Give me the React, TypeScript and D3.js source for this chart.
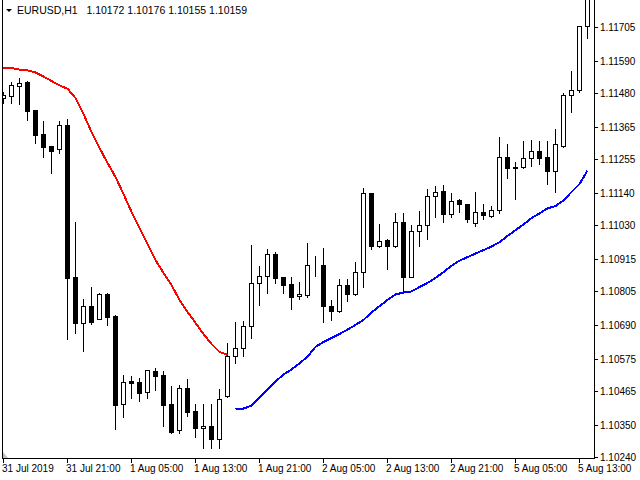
import * as d3 from "d3";
import { useEffect, useRef } from "react";

// EURUSD H1 candles, 31 Jul 13:00 .. 5 Aug 14:00
const opens = [
  1.11463, 1.1147, 1.11504, 1.11518, 1.11422, 1.1134, 1.113, 1.11289, 1.11371, 1.10853,
  1.10697, 1.10754, 1.1071, 1.10795, 1.1072, 1.10421, 1.10499, 1.10496, 1.10461, 1.10533,
  1.10519, 1.10421, 1.10332, 1.10475, 1.10397, 1.10339, 1.10346, 1.10301, 1.10448, 1.10584,
  1.10611, 1.10686, 1.10833, 1.10857, 1.10932, 1.10853, 1.10829, 1.10787, 1.10792, 1.10893,
  1.10894, 1.10754, 1.10737, 1.10826, 1.10795, 1.1087, 1.11139, 1.1096, 1.10979, 1.10959,
  1.11041, 1.10853, 1.1101, 1.1103, 1.11129, 1.11146, 1.11068, 1.11116, 1.11102, 1.11037,
  1.11075, 1.11061, 1.1108, 1.11262, 1.11228, 1.11228, 1.11257, 1.11283, 1.11262, 1.11216,
  1.11301, 1.11472, 1.11489, 1.11707,
];
const highs = [
  1.11484, 1.11518, 1.11531, 1.11521, 1.11422, 1.11385, 1.113, 1.11385, 1.11392, 1.11041,
  1.10778, 1.10819, 1.10799, 1.10799, 1.10724, 1.10519, 1.10516, 1.10509, 1.10537, 1.10543,
  1.10533, 1.10482, 1.10485, 1.10506, 1.10421, 1.10421, 1.10421, 1.10472, 1.10628, 1.107,
  1.10703, 1.10962, 1.10891, 1.10949, 1.10938, 1.10853, 1.10853, 1.10836, 1.10969, 1.10925,
  1.10952, 1.10775, 1.10846, 1.10846, 1.10904, 1.11156, 1.1114, 1.11034, 1.10983, 1.11071,
  1.11071, 1.1103, 1.11078, 1.11153, 1.11163, 1.11167, 1.11139, 1.11119, 1.11103, 1.11143,
  1.11102, 1.11095, 1.1133, 1.11306, 1.11245, 1.11317, 1.1132, 1.11317, 1.11317, 1.11357,
  1.1148, 1.11555, 1.11708, 1.11814,
];
const lows = [
  1.11446, 1.11446, 1.11443, 1.11388, 1.1131, 1.11262, 1.11208, 1.11276, 1.10642, 1.10662,
  1.10601, 1.10693, 1.10709, 1.1069, 1.10335, 1.10376, 1.10441, 1.10431, 1.10441, 1.10468,
  1.10346, 1.10323, 1.10322, 1.1038, 1.10308, 1.10271, 1.10271, 1.10271, 1.10444, 1.1056,
  1.10584, 1.10645, 1.10758, 1.10799, 1.10833, 1.10799, 1.10744, 1.10778, 1.10785, 1.10857,
  1.107, 1.10707, 1.10734, 1.10771, 1.10792, 1.10819, 1.10949, 1.10956, 1.10881, 1.10957,
  1.10802, 1.10852, 1.10959, 1.10983, 1.11058, 1.11041, 1.11058, 1.11075, 1.11041, 1.11027,
  1.11051, 1.11058, 1.11071, 1.11191, 1.11119, 1.11226, 1.11231, 1.11238, 1.1117, 1.11143,
  1.11296, 1.11415, 1.11484, 1.11668,
];
const closes = [
  1.11475, 1.11507, 1.11514, 1.11419, 1.11337, 1.11296, 1.11282, 1.11371, 1.1085, 1.10697,
  1.10754, 1.107, 1.10795, 1.10717, 1.10417, 1.10496, 1.10492, 1.10458, 1.10536, 1.10516,
  1.10417, 1.10325, 1.10475, 1.10393, 1.10339, 1.10346, 1.10301, 1.10438, 1.10584, 1.10611,
  1.10686, 1.10833, 1.10857, 1.10932, 1.1085, 1.10826, 1.10785, 1.10795, 1.10894, 1.10894,
  1.10753, 1.10737, 1.10826, 1.10795, 1.1087, 1.11139, 1.10959, 1.10975, 1.10959, 1.11041,
  1.10853, 1.1101, 1.1103, 1.11129, 1.11143, 1.11068, 1.11112, 1.11102, 1.11051, 1.11075,
  1.11063, 1.11082, 1.11262, 1.11225, 1.11223, 1.11259, 1.11283, 1.11257, 1.11216, 1.11306,
  1.11472, 1.1149, 1.11707, 1.11807,
];

// indicator: red part from bar 0, blue part from bar 29
const redStart = 0;
const redLine = [
  1.11567, 1.11565, 1.1156, 1.11557, 1.1155, 1.11536, 1.11521, 1.11506, 1.11495, 1.11463,
  1.11409, 1.11347, 1.11293, 1.11242, 1.11194, 1.11136, 1.11075, 1.1102, 1.10966, 1.10911,
  1.10867, 1.10826, 1.10775, 1.10734, 1.10697, 1.10659, 1.10625, 1.10598, 1.10588,
];
const blueStart = 29;
const blueLine = [
  1.10404, 1.10405, 1.10415, 1.10443, 1.1047, 1.10497, 1.10521, 1.10538, 1.10559, 1.10582,
  1.10615, 1.10632, 1.10645, 1.10659, 1.10674, 1.1069, 1.10707, 1.10732, 1.10754, 1.10775,
  1.10794, 1.108, 1.10804, 1.10819, 1.10833, 1.1085, 1.1087, 1.10891, 1.10909, 1.10921,
  1.10933, 1.10945, 1.10957, 1.10972, 1.10993, 1.11013, 1.11032, 1.11054, 1.1107, 1.11087,
  1.11095, 1.11114, 1.11143, 1.1117, 1.11216,
];

const priceTicks = [
  "1.11705", "1.11590", "1.11480", "1.11365", "1.11255", "1.11140", "1.11030",
  "1.10915", "1.10805", "1.10690", "1.10575", "1.10465", "1.10350", "1.10240",
];
const timeTickBars = [0, 8, 16, 24, 32, 40, 48, 56, 64, 72];
const timeTickLabels = [
  "31 Jul 2019", "31 Jul 21:00", "1 Aug 05:00", "1 Aug 13:00", "1 Aug 21:00",
  "2 Aug 05:00", "2 Aug 13:00", "2 Aug 21:00", "5 Aug 05:00", "5 Aug 13:00",
];
const header = "EURUSD,H1   1.10172 1.10176 1.10155 1.10159";

const FONT = "'Liberation Sans', Arial, sans-serif";

export default function App() {
  const ref = useRef<SVGSVGElement>(null);

  useEffect(() => {
    const svg = d3.select(ref.current);
    svg.selectAll("*").remove();

    const left = 2;
    const right = 594;
    const bottom = 458;

    const x = d3.scaleLinear().domain([0, 73]).range([3, 587]);
    const y = d3.scaleLinear().domain([1.1024, 1.11705]).range([457, 27]);
    const px = (i: number) => Math.round(x(i)) + 0.5;
    const py = (v: number) => Math.round(y(v));

    svg
      .append("defs")
      .append("clipPath")
      .attr("id", "plot")
      .append("rect")
      .attr("x", left + 1)
      .attr("y", 0)
      .attr("width", right - left - 1)
      .attr("height", bottom);

    const plot = svg.append("g").attr("clip-path", "url(#plot)");

    // candles
    const bars = d3.range(opens.length);
    const g = plot
      .selectAll("g.c")
      .data(bars)
      .join("g")
      .attr("class", "c")
      .attr("shape-rendering", "crispEdges");
    g.append("line")
      .attr("x1", (i) => px(i))
      .attr("x2", (i) => px(i))
      .attr("y1", (i) => py(highs[i]))
      .attr("y2", (i) => py(lows[i]) + 1)
      .attr("stroke", "#000")
      .attr("stroke-width", 1);
    g.append("rect")
      .attr("x", (i) => px(i) - 2)
      .attr("y", (i) => Math.min(py(opens[i]), py(closes[i])) + 0.5)
      .attr("width", 4)
      .attr("height", (i) => Math.abs(py(opens[i]) - py(closes[i])))
      .attr("fill", (i) => (closes[i] >= opens[i] ? "#fff" : "#000"))
      .attr("stroke", "#000")
      .attr("stroke-width", 1);

    // indicator lines
    const line = d3
      .line<[number, number]>()
      .x((d) => x(d[0]) + 0.5)
      .y((d) => y(d[1]));
    plot
      .append("path")
      .attr("d", line(redLine.map((v, k) => [redStart + k, v])))
      .attr("fill", "none")
      .attr("stroke", "#ff0000")
      .attr("stroke-width", 2)
      .attr("shape-rendering", "crispEdges");
    plot
      .append("path")
      .attr("d", line(blueLine.map((v, k) => [blueStart + k, v])))
      .attr("fill", "none")
      .attr("stroke", "#0000ff")
      .attr("stroke-width", 2)
      .attr("shape-rendering", "crispEdges");

    // frame
    const frame = svg
      .append("g")
      .attr("stroke", "#000")
      .attr("stroke-width", 1)
      .attr("shape-rendering", "crispEdges");
    frame.append("line").attr("x1", left + 0.5).attr("x2", left + 0.5).attr("y1", 0).attr("y2", bottom + 1);
    frame.append("line").attr("x1", right + 0.5).attr("x2", right + 0.5).attr("y1", 0).attr("y2", bottom + 1);
    frame.append("line").attr("x1", left).attr("x2", right + 1).attr("y1", bottom + 0.5).attr("y2", bottom + 0.5);

    svg
      .append("path")
      .attr("d", `M${left + 1},${bottom - 6}L${left + 6},${bottom}L${left + 1},${bottom}Z`)
      .attr("fill", "#c0c0c0");

    // price axis
    const pa = svg.append("g");
    pa.selectAll("line")
      .data(priceTicks)
      .join("line")
      .attr("x1", right)
      .attr("x2", right + 4)
      .attr("y1", (d) => py(+d) + 0.5)
      .attr("y2", (d) => py(+d) + 0.5)
      .attr("stroke", "#000")
      .attr("shape-rendering", "crispEdges");
    pa.selectAll("text")
      .data(priceTicks)
      .join("text")
      .attr("x", right + 6)
      .attr("y", (d) => py(+d) + 0.5)
      .attr("dominant-baseline", "central")
      .attr("font-family", FONT)
      .attr("font-size", 10)
      .attr("fill", "#000")
      .text((d) => d);

    // time axis
    const ta = svg.append("g");
    ta.selectAll("line")
      .data(timeTickBars)
      .join("line")
      .attr("x1", (i) => px(i))
      .attr("x2", (i) => px(i))
      .attr("y1", bottom)
      .attr("y2", bottom + 5)
      .attr("stroke", "#000")
      .attr("shape-rendering", "crispEdges");
    ta.selectAll("text")
      .data(timeTickBars)
      .join("text")
      .attr("x", (i) => px(i) - 1.5)
      .attr("y", 472)
      .attr("font-family", FONT)
      .attr("font-size", 10)
      .attr("fill", "#000")
      .text((_, k) => timeTickLabels[k]);

    // header
    svg
      .append("path")
      .attr("d", "M6,9L12,9L9,12Z")
      .attr("fill", "#000");
    svg
      .append("text")
      .attr("x", 17)
      .attr("y", 14)
      .attr("font-family", FONT)
      .attr("font-size", 10.5)
      .attr("fill", "#000")
      .style("white-space", "pre")
      .text(header);
  }, []);

  return (
    <svg
      ref={ref}
      width={640}
      height={480}
      style={{ position: "absolute", left: 0, top: 0, background: "#fff" }}
    />
  );
}
